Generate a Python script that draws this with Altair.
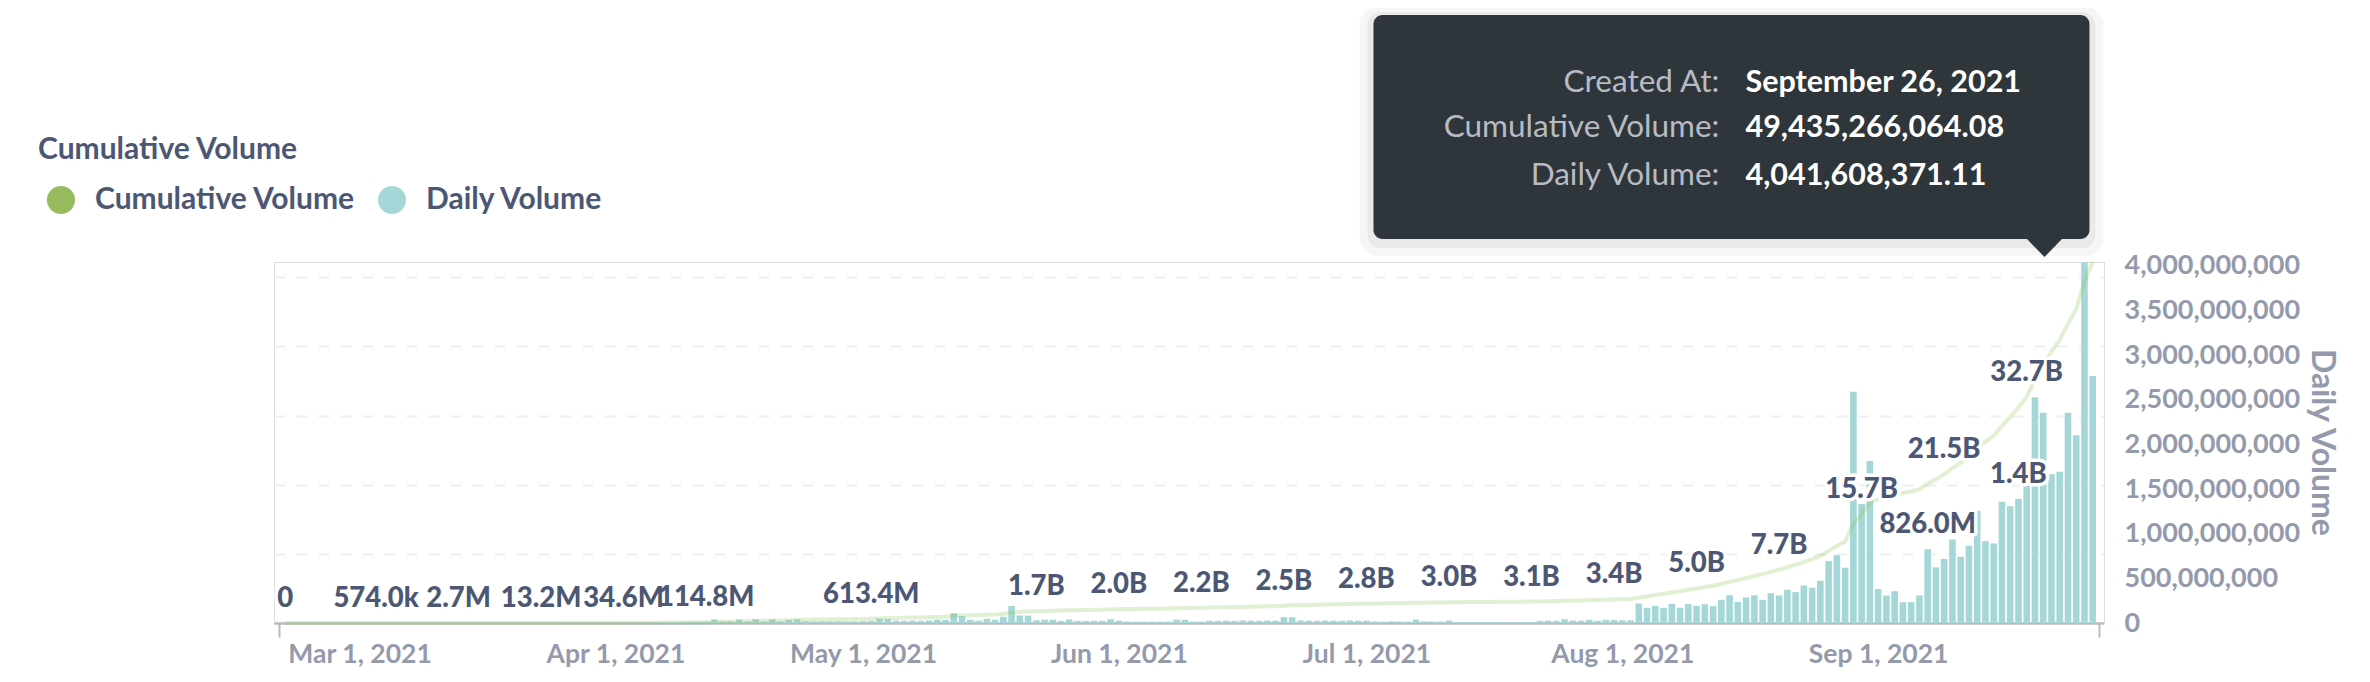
import altair as alt
import pandas as pd

alt.data_transformers.disable_max_rows()

# ---------------- data (daily volume, USD millions) ----------------
start_date = "2021-02-20"

daily_feb = [0, 0.0012, 0.0035, 0.0082, 0.0154, 0.0228, 0.0315, 0.0482, 0.0669]
daily_mar = [0.0884, 0.1213, 0.1666,
             0.120, 0.140, 0.160, 0.175, 0.190, 0.210, 0.230, 0.255, 0.300, 0.346,
             0.520, 0.640, 0.780, 0.850, 0.930, 1.050, 1.180, 1.320, 1.500, 1.730,
             1.6, 1.8, 1.9, 2.0, 2.1, 2.2, 2.3, 2.4]
daily_apr = [2.5, 2.6, 3.5, 4.2, 5.1, 6.0, 6.8, 7.4, 8.3, 15.2, 10.1, 13.6,
             40.2, 17.8, 19.1, 39.6, 18.4, 41.0, 17.2, 39.8, 18.9, 33.5, 40.4,
             19.6, 17.5, 18.8, 18.2, 19.3, 17.9, 18.6]
daily_may = [20.1, 22.7, 48, 46, 26, 24, 27, 25, 28, 38, 36, 110, 77.6, 35, 27,
             47, 36, 70, 190, 84, 82, 30, 38, 36, 22, 40, 24, 23, 25, 24, 42]
daily_jun = [26, 17, 15, 16, 14, 16, 15, 38, 36, 17, 16, 26, 25, 27, 24, 28, 26,
             25, 27, 26, 66, 64, 27, 26, 25, 27, 26, 25, 28, 26]
daily_jul = [26, 17, 16, 18, 17, 16, 38, 18, 17, 16, 27, 9, 11, 10, 9, 10, 11,
             10, 9, 10, 11, 24, 26, 25, 42, 27, 26, 36, 25, 36, 33]
daily_aug = [30, 30, 218, 170, 192, 170, 214, 170, 214, 192, 210, 188, 259, 311,
             236, 285, 311, 259, 333, 308, 372, 346, 421, 395, 473, 693, 760,
             619, 2590, 1331, 1815]
daily_sep = [380, 308, 356, 232, 233, 309, 826, 623, 718, 935, 742, 865, 1256,
             917, 891, 1357, 1308, 1390, 1539, 2527, 2355, 1664, 1692, 2355,
             2100.65769297, 4041.60837111, 2765]

series_names = ["Cumulative Volume", "Daily Volume"]
series_colors = ["#96BC5D", "#A6D7D8"]
line_color = "#88BF4D"

month_ticks = ["2021-03-01", "2021-04-01", "2021-05-01", "2021-06-01",
               "2021-07-01", "2021-08-01", "2021-09-01"]
daily_ticks = [0, 500_000_000, 1_000_000_000, 1_500_000_000, 2_000_000_000,
               2_500_000_000, 3_000_000_000, 3_500_000_000, 4_000_000_000]
cum_grid = [10e9, 20e9, 30e9, 40e9, 50e9]

line_label_idx = [0, 11, 21, 31, 41, 51, 71, 91, 101, 111, 121, 131, 141, 151,
                  161, 171, 181, 191, 201, 211]
bar_label_idx = [199, 210]
tooltip_day = "2021-09-26"

# ---------------- table ----------------
values_m = (daily_feb + daily_mar + daily_apr + daily_may + daily_jun +
            daily_jul + daily_aug + daily_sep)
daily = [round(v * 1e6, 2) for v in values_m]
dates = pd.date_range(start_date, periods=len(daily), freq="D")
df = pd.DataFrame({"date": dates.strftime("%Y-%m-%d"), "daily": daily})
df["cum"] = df["daily"].cumsum()
df["idx"] = range(len(df))
df["line_label"] = df["idx"].isin(line_label_idx)
df["bar_label"] = df["idx"].isin(bar_label_idx)

max_daily = float(df["daily"].max())
max_cum = float(df["cum"].max())


def ms(ts):
    return int(pd.Timestamp(ts).tz_localize("UTC").value // 10**6)


PAD = int(0.76 * 86400000)
x0 = ms(dates[0]) - PAD
x1 = ms(dates[-1]) + PAD
tick_vals = [x0] + [ms(d) for d in month_ticks] + [x1]

FONT = "Lato"
DARK = "#4C5773"
MUTED = "#949AAB"
AXIS_LINE = "#B8BBC3"

COMPACT = ("abs(datum.{f}) >= 1e9 ? format(datum.{f}/1e9, '.1f') + 'B' : "
           "abs(datum.{f}) >= 1e6 ? format(datum.{f}/1e6, '.1f') + 'M' : "
           "abs(datum.{f}) >= 1e3 ? format(datum.{f}/1e3, '.1f') + 'k' : "
           "format(datum.{f}, 'd')")

edge_test = f"datum.value <= {x0} || datum.value >= {x1}"
x_enc = alt.X(
    "date:T",
    scale=alt.Scale(type="utc", domain=[x0, x1]),
    axis=alt.Axis(
        values=tick_vals,
        labelExpr=f"({edge_test}) ? '' : utcFormat(datum.value, '%b %-d, %Y')",
        tickOpacity={"condition": {"test": edge_test, "value": 1}, "value": 0},
        tickSize=14, tickWidth=2, tickColor=AXIS_LINE,
        domainColor=AXIS_LINE, domainWidth=2.5,
        grid=False, labelOverlap=False, labelFlush=False, labelPadding=4,
        labelFont=FONT, labelFontSize=26.5, labelFontWeight="bold",
        labelColor=MUTED, title=None,
    ),
)

y_daily = alt.Y(
    "daily:Q",
    scale=alt.Scale(domain=[0, max_daily], nice=False),
    axis=alt.Axis(
        orient="right", values=daily_ticks, format=",d", grid=False,
        domain=False, ticks=False, labelPadding=20, labelFlush=False,
        labelFont=FONT, labelFontSize=27, labelFontWeight="bold",
        labelColor=MUTED,
        title="Daily Volume", titleFont=FONT, titleFontSize=32,
        titleFontWeight="bold", titleColor=MUTED, titleAngle=90,
        titleAlign="center", titleBaseline="middle", titleX=217, titleY=180,
    ),
)

y_cum = alt.Y(
    "cum:Q",
    scale=alt.Scale(domain=[0, max_cum], nice=False),
    axis=alt.Axis(
        orient="left", values=cum_grid, labels=False, ticks=False,
        domain=False, grid=True, gridDash=[11, 11], gridColor="#EEEFF1",
        gridWidth=2, title=None,
    ),
)

legend = alt.Legend(
    orient="none", legendX=-228, legendY=-77, direction="horizontal",
    title=None, symbolType="circle", symbolSize=784, symbolStrokeWidth=0,
    symbolOpacity=1, labelFont=FONT, labelFontSize=30,
    labelFontWeight="bold", labelColor=DARK, labelOffset=19,
    columnPadding=21, padding=0, labelLimit=0,
)

base = alt.Chart(df)

bars = base.transform_calculate(series="'Daily Volume'").mark_bar(
    width=6.6).encode(
    x=x_enc, y=y_daily,
    color=alt.Color("series:N",
                    scale=alt.Scale(domain=series_names, range=series_colors),
                    legend=legend),
)

label_style = dict(font=FONT, fontSize=27.5, fontWeight=900, dy=-16,
                   baseline="alphabetic", align="center")

bar_lab = base.transform_filter("datum.bar_label").transform_calculate(
    lab=COMPACT.format(f="daily"))
bar_halo = bar_lab.mark_text(color="white", stroke="white", strokeWidth=7,
                             strokeJoin="round", **label_style).encode(
    x=x_enc, y=y_daily, text="lab:N")
bar_text = bar_lab.mark_text(color=DARK, **label_style).encode(
    x=x_enc, y=y_daily, text="lab:N")

# tooltip for the hovered day
tt = base.transform_filter(
    f"utcFormat(datum.date, '%Y-%m-%d') == '{tooltip_day}'"
).transform_calculate(
    tt_date="utcFormat(datum.date, '%B %-d, %Y')",
    tt_cum="format(datum.cum, ',.2f')",
    tt_daily="format(datum.daily, ',.2f')",
)
TT_BG = "#2E353B"
tt_shadow1 = tt.mark_rect(color="#000000", opacity=0.035, cornerRadius=18,
                          xOffset=-725, x2Offset=19, yOffset=-255,
                          y2Offset=-6).encode(
    x=x_enc, x2="date:T", y=y_daily, y2="daily:Q")
tt_shadow2 = tt.mark_rect(color="#000000", opacity=0.05, cornerRadius=13,
                          xOffset=-717, x2Offset=11, yOffset=-250,
                          y2Offset=-14).encode(
    x=x_enc, x2="date:T", y=y_daily, y2="daily:Q")
tt_box = tt.mark_rect(color=TT_BG, cornerRadius=9, xOffset=-711, x2Offset=5,
                      yOffset=-247, y2Offset=-23).encode(
    x=x_enc, x2="date:T", y=y_daily, y2="daily:Q")
tt_arrow = tt.mark_point(shape="M-1,0L1,0L0,1.03Z", size=1225, filled=True,
                         color=TT_BG, opacity=1, strokeWidth=0,
                         xOffset=-40, yOffset=-23).encode(x=x_enc, y=y_daily)

tt_layers = []
rows = [("Created At:", "tt_date", -170), ("Cumulative Volume:", "tt_cum", -125),
        ("Daily Volume:", "tt_daily", -77)]
for label, field, dy in rows:
    tt_layers.append(tt.mark_text(font=FONT, fontSize=31.5, color="#B8BBC3",
                                  align="right", baseline="alphabetic",
                                  dx=-365, dy=dy).encode(
        x=x_enc, y=y_daily, text=alt.value(label)))
    tt_layers.append(tt.mark_text(font=FONT, fontSize=30.5, fontWeight="bold",
                                  color="white", align="left",
                                  baseline="alphabetic", dx=-339, dy=dy).encode(
        x=x_enc, y=y_daily, text=f"{field}:N"))

daily_layer = alt.layer(bars, bar_halo, bar_text, tt_shadow1, tt_shadow2,
                        tt_box, tt_arrow, *tt_layers)

line = base.mark_line(color=line_color, strokeWidth=4,
                      strokeOpacity=0.25).encode(x=x_enc, y=y_cum)
line_lab = base.transform_filter("datum.line_label").transform_calculate(
    lab=COMPACT.format(f="cum"))
line_halo = line_lab.mark_text(color="white", stroke="white", strokeWidth=7,
                               strokeJoin="round", **label_style).encode(
    x=x_enc, y=y_cum, text="lab:N")
line_text = line_lab.mark_text(color=DARK, **label_style).encode(
    x=x_enc, y=y_cum, text="lab:N")

cum_layer = alt.layer(line, line_halo, line_text)

chart = alt.layer(daily_layer, cum_layer).resolve_scale(
    y="independent"
).properties(
    width=1830, height=361,
    padding={"left": 266, "top": 254, "right": 256, "bottom": 46},
    autosize=alt.AutoSizeParams(type="none"),
    title=alt.TitleParams(
        text="Cumulative Volume", anchor="start", frame="group", dx=-236,
        dy=212, font=FONT, fontSize=30, fontWeight="bold", color=DARK,
        baseline="alphabetic", offset=30,
    ),
).configure_view(stroke="transparent", strokeWidth=0).configure(
    background="white")

chart.save("out.html", embed_options={"renderer": "svg", "actions": False})
